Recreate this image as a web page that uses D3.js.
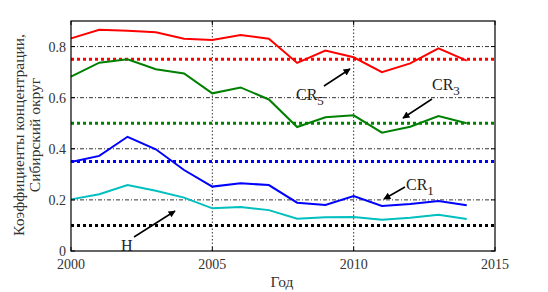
<!DOCTYPE html>
<html lang="ru">
<head>
<meta charset="utf-8">
<script src="https://d3js.org/d3.v7.min.js"></script>
<style>
body{margin:0;background:#fff;font-family:"Liberation Serif","Times New Roman",serif;}
</style>
</head>
<body>
<div id="chart"></div>
<script>
// data
var years = [2000,2001,2002,2003,2004,2005,2006,2007,2008,2009,2010,2011,2012,2013,2014]
var cr5 = [0.832,0.866,0.862,0.856,0.831,0.826,0.845,0.831,0.736,0.784,0.758,0.70,0.734,0.793,0.745]
var cr3 = [0.682,0.737,0.75,0.711,0.695,0.617,0.64,0.593,0.485,0.523,0.531,0.463,0.486,0.528,0.50]
var cr1 = [0.348,0.372,0.447,0.398,0.317,0.252,0.265,0.258,0.189,0.18,0.215,0.176,0.184,0.196,0.179]
var hhi = [0.202,0.222,0.258,0.236,0.209,0.167,0.172,0.160,0.126,0.132,0.133,0.122,0.13,0.142,0.125]
var levels = [0.75,0.5,0.35,0.1]
var xTicks = [2000,2005,2010,2015]
var yTicks = [0,0.2,0.4,0.6,0.8]

var w = 548, h = 292
var m = {left:71, right:53, top:21, bottom:41}

var svg = d3.select("#chart").append("svg").attr("width",w).attr("height",h)

var x = d3.scaleLinear().domain([2000,2015]).range([m.left,w-m.right])
var y = d3.scaleLinear().domain([0,0.9]).range([h-m.bottom,m.top])

// grid
svg.selectAll(".hgrid").data(yTicks.slice(1)).enter().append("line")
    .attr("x1",x(2000)).attr("x2",x(2015))
    .attr("y1",function(d){return y(d)}).attr("y2",function(d){return y(d)})
    .attr("stroke","#000").attr("stroke-width",0.8).attr("stroke-dasharray","4,2,1,2")
svg.selectAll(".vgrid").data([2005,2010]).enter().append("line")
    .attr("x1",function(d){return x(d)}).attr("x2",function(d){return x(d)})
    .attr("y1",y(0)).attr("y2",y(0.9))
    .attr("stroke","#000").attr("stroke-width",0.8).attr("stroke-dasharray","1.5,2")

// level lines
var levelColors = ["#ff0000","#008000","#0000ff","#000000"]
svg.selectAll(".lvl").data(levels).enter().append("line")
    .attr("x1",x(2000)).attr("x2",x(2015))
    .attr("y1",function(d){return y(d)}).attr("y2",function(d){return y(d)})
    .attr("stroke",function(d,i){return levelColors[i]})
    .attr("stroke-width",3).attr("stroke-dasharray","3,3")

// series
var line = d3.line().x(function(d,i){return x(years[i])}).y(function(d){return y(d)})
var series = [[cr5,"#ff0000"],[cr3,"#008000"],[cr1,"#0000ff"],[hhi,"#00bfbf"]]
series.forEach(function(s){
    svg.append("path").attr("d",line(s[0])).attr("fill","none")
        .attr("stroke",s[1]).attr("stroke-width",2)
})

// frame
svg.append("rect").attr("x",x(2000)).attr("y",y(0.9))
    .attr("width",x(2015)-x(2000)).attr("height",y(0)-y(0.9))
    .attr("fill","none").attr("stroke","#000").attr("stroke-width",1.2)

// ticks inside
yTicks.forEach(function(t){
    svg.append("line").attr("x1",x(2000)).attr("x2",x(2000)+4).attr("y1",y(t)).attr("y2",y(t)).attr("stroke","#000")
    svg.append("line").attr("x1",x(2015)).attr("x2",x(2015)-4).attr("y1",y(t)).attr("y2",y(t)).attr("stroke","#000")
})
xTicks.forEach(function(t){
    svg.append("line").attr("x1",x(t)).attr("x2",x(t)).attr("y1",y(0)).attr("y2",y(0)-4).attr("stroke","#000")
    svg.append("line").attr("x1",x(t)).attr("x2",x(t)).attr("y1",y(0.9)).attr("y2",y(0.9)+4).attr("stroke","#000")
})

// tick labels
svg.selectAll(".ylab").data(yTicks).enter().append("text")
    .attr("x",x(2000)-5).attr("y",function(d){return y(d)+5})
    .attr("text-anchor","end").attr("font-size","14px").attr("fill","#333")
    .text(function(d){return d===0 ? "0" : d3.format(".1f")(d)})
svg.selectAll(".xlab").data(xTicks).enter().append("text")
    .attr("x",function(d){return x(d)}).attr("y",y(0)+18)
    .attr("text-anchor","middle").attr("font-size","14px").attr("fill","#333")
    .text(function(d){return d})

// axis titles
svg.append("text").attr("x",282).attr("y",287).attr("text-anchor","middle")
    .attr("font-size","15.5px").attr("fill","#333").text("Год")
var yt = svg.append("text").attr("transform","translate(0,135) rotate(-90)")
    .attr("text-anchor","middle").attr("font-size","15.5px").attr("fill","#333")
yt.append("tspan").attr("x",0).attr("y",24).text("Коэффициенты концентрации,")
yt.append("tspan").attr("x",0).attr("y",40).text("Сибирский округ")

// annotations
svg.append("defs").append("marker").attr("id","ah").attr("viewBox","0 0 10 10")
    .attr("refX",9).attr("refY",5).attr("markerWidth",10).attr("markerHeight",7)
    .attr("markerUnits","userSpaceOnUse").attr("orient","auto")
    .append("path").attr("d","M0,0 L10,5 L0,10 z").attr("fill","#000")

var notes = [
    {lab:"CR",sub:"5",tx:296,ty:100,ax1:324,ay1:86,ax2:350,ay2:69},
    {lab:"CR",sub:"3",tx:432,ty:90,ax1:432,ay1:99,ax2:403,ay2:118},
    {lab:"CR",sub:"1",tx:406,ty:190,ax1:405,ay1:187,ax2:384,ay2:199},
    {lab:"H",sub:"",tx:121,ty:251,ax1:134,ay1:237,ax2:175,ay2:211}
]
notes.forEach(function(n){
    svg.append("line").attr("x1",n.ax1).attr("y1",n.ay1).attr("x2",n.ax2).attr("y2",n.ay2)
        .attr("stroke","#000").attr("stroke-width",1.5).attr("marker-end","url(#ah)")
    var t = svg.append("text").attr("x",n.tx).attr("y",n.ty).attr("font-size","16px").attr("fill","#222")
    t.append("tspan").text(n.lab)
    if(n.sub) t.append("tspan").attr("dy",5).attr("font-size","13px").text(n.sub)
})
</script>
</body>
</html>
